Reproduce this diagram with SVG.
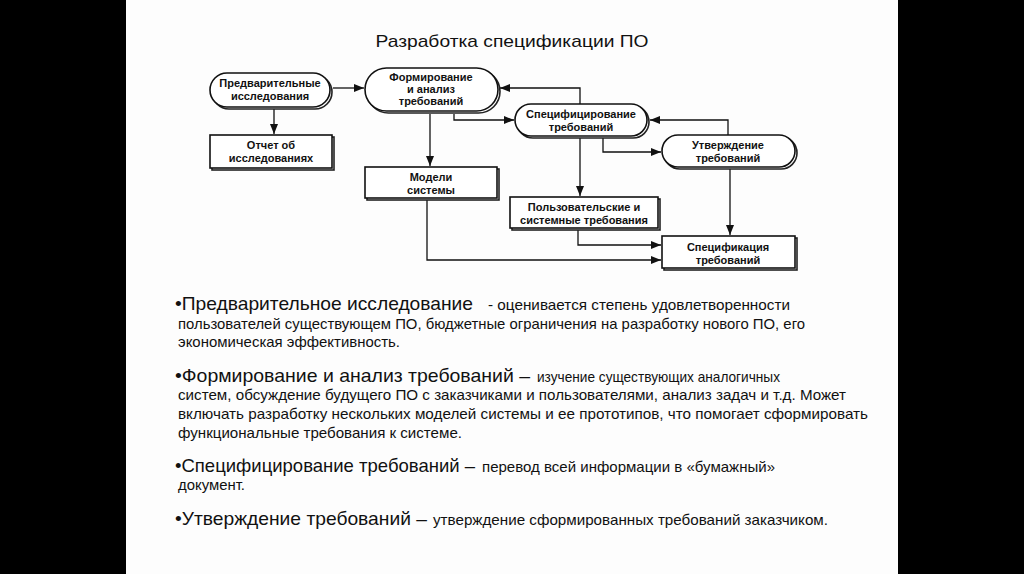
<svg xmlns="http://www.w3.org/2000/svg" width="1024" height="574" viewBox="0 0 1024 574">
<style>
.shape{fill:#fff;stroke:#111;stroke-width:1.6}
.shadow{fill:none;stroke:#222;stroke-width:1.6}
.lbl{font-family:"Liberation Sans",Arial,sans-serif;font-size:11px;font-weight:bold;fill:#111;text-anchor:middle}
.con{fill:none;stroke:#111;stroke-width:1.3}
.big{font-family:"Liberation Sans",Arial,sans-serif;font-size:18.5px;fill:#111}
.sm{font-family:"Liberation Sans Narrow","Liberation Sans",Arial,sans-serif;font-size:14.5px;fill:#111}
.title{font-family:"Liberation Sans",Arial,sans-serif;font-size:17px;fill:#111;text-anchor:middle}
</style>
<defs>
<marker id="ah" viewBox="0 0 10 8" refX="10" refY="4" markerWidth="10" markerHeight="8" markerUnits="userSpaceOnUse" orient="auto">
<path d="M0,0 L10,4 L0,8 z" fill="#111"/>
</marker>
</defs>
<rect x="0" y="0" width="1024" height="574" fill="#000"/>
<rect x="126" y="0" width="772" height="574" fill="#fdfdfd"/>
<text class="title" x="512" y="47" textLength="273" lengthAdjust="spacingAndGlyphs">Разработка спецификации ПО</text>

<g id="connectors">
<path class="con" d="M333,88 H364" marker-end="url(#ah)"/>
<path class="con" d="M274,109 V134" marker-end="url(#ah)"/>
<path class="con" d="M430,114 V166" marker-end="url(#ah)"/>
<path class="con" d="M454,114 V120 H514" marker-end="url(#ah)"/>
<path class="con" d="M580,104 V88 H500" marker-end="url(#ah)"/>
<path class="con" d="M728,135 V120 H650" marker-end="url(#ah)"/>
<path class="con" d="M603,138 V152 H661" marker-end="url(#ah)"/>
<path class="con" d="M580,138 V196" marker-end="url(#ah)"/>
<path class="con" d="M730,169 V235" marker-end="url(#ah)"/>
<path class="con" d="M578,230 V245 H661" marker-end="url(#ah)"/>
<path class="con" d="M427,200 V260 H661" marker-end="url(#ah)"/>
</g>

<g id="n-predv">
<rect class="shadow" x="212" y="75" width="120" height="34" rx="17"/>
<rect class="shape" x="210" y="73" width="120" height="34" rx="17"/>
<text class="lbl" x="270" y="87">Предварительные</text>
<text class="lbl" x="270" y="100">исследования</text>
</g>

<g id="n-form">
<rect class="shadow" x="367" y="70" width="133" height="43" rx="21.5"/>
<rect class="shape" x="365" y="68" width="133" height="43" rx="21.5"/>
<text class="lbl" x="431" y="81">Формирование</text>
<text class="lbl" x="431" y="93">и анализ</text>
<text class="lbl" x="431" y="105">требований</text>
</g>

<g id="n-otchet">
<rect class="shadow" x="212" y="137" width="122" height="33"/>
<rect class="shape" x="210" y="135" width="122" height="33"/>
<text class="lbl" x="271" y="149">Отчет об</text>
<text class="lbl" x="271" y="162">исследованиях</text>
</g>

<g id="n-spec">
<rect class="shadow" x="517" y="106" width="132" height="32" rx="16"/>
<rect class="shape" x="515" y="104" width="132" height="32" rx="16"/>
<text class="lbl" x="581" y="118">Специфицирование</text>
<text class="lbl" x="581" y="131">требований</text>
</g>

<g id="n-utv">
<rect class="shadow" x="664" y="137" width="133" height="32" rx="16"/>
<rect class="shape" x="662" y="135" width="133" height="32" rx="16"/>
<text class="lbl" x="728" y="149">Утверждение</text>
<text class="lbl" x="728" y="162">требований</text>
</g>

<g id="n-model">
<rect class="shadow" x="367" y="169" width="132" height="31"/>
<rect class="shape" x="365" y="167" width="132" height="31"/>
<text class="lbl" x="431" y="181">Модели</text>
<text class="lbl" x="431" y="194">системы</text>
</g>

<g id="n-polz">
<rect class="shadow" x="512" y="199" width="148" height="31"/>
<rect class="shape" x="510" y="197" width="148" height="31"/>
<text class="lbl" x="584" y="211">Пользовательские и</text>
<text class="lbl" x="584" y="224">системные требования</text>
</g>

<g id="n-specdoc">
<rect class="shadow" x="664" y="238" width="133" height="32"/>
<rect class="shape" x="662" y="236" width="133" height="32"/>
<text class="lbl" x="728" y="251">Спецификация</text>
<text class="lbl" x="728" y="264">требований</text>
</g>

<g id="text-body">
<text class="big" x="175" y="310" textLength="298" lengthAdjust="spacingAndGlyphs">•Предварительное исследование</text>
<text class="sm" x="488" y="310" textLength="302" lengthAdjust="spacingAndGlyphs">- оценивается степень удовлетворенности</text>
<text class="sm" x="178" y="329" textLength="627" lengthAdjust="spacingAndGlyphs">пользователей существующем ПО, бюджетные ограничения на разработку нового ПО, его</text>
<text class="sm" x="178" y="347" textLength="222" lengthAdjust="spacingAndGlyphs">экономическая эффективность.</text>

<text class="big" x="175" y="382" textLength="355" lengthAdjust="spacingAndGlyphs">•Формирование и анализ требований –</text>
<text class="sm" x="537" y="382" textLength="243" lengthAdjust="spacingAndGlyphs">изучение существующих аналогичных</text>
<text class="sm" x="178" y="400" textLength="668" lengthAdjust="spacingAndGlyphs">систем, обсуждение  будущего ПО с заказчиками и пользователями, анализ задач и т.д. Может</text>
<text class="sm" x="178" y="419" textLength="690" lengthAdjust="spacingAndGlyphs">включать разработку нескольких моделей системы и ее прототипов, что помогает сформировать</text>
<text class="sm" x="178" y="438" textLength="284" lengthAdjust="spacingAndGlyphs">функциональные требования к системе.</text>

<text class="big" x="175" y="472" textLength="300" lengthAdjust="spacingAndGlyphs">•Специфицирование требований –</text>
<text class="sm" x="482" y="472" textLength="293" lengthAdjust="spacingAndGlyphs">перевод всей информации в «бумажный»</text>
<text class="sm" x="178" y="490" textLength="67" lengthAdjust="spacingAndGlyphs">документ.</text>

<text class="big" x="175" y="525" textLength="252" lengthAdjust="spacingAndGlyphs">•Утверждение требований –</text>
<text class="sm" x="433" y="525" textLength="395" lengthAdjust="spacingAndGlyphs">утверждение сформированных требований заказчиком.</text>
</g>
</svg>
